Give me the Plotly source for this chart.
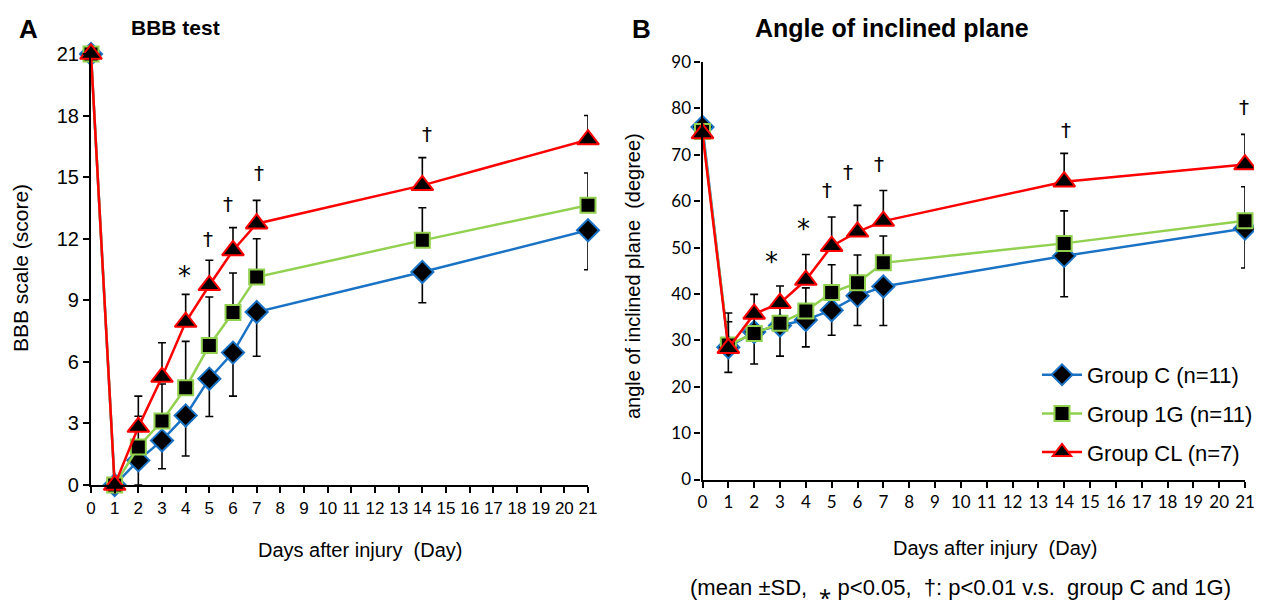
import plotly.graph_objects as go

# ---------------- data ----------------
days = [0, 1, 2, 3, 4, 5, 6, 7, 14, 21]

# Panel A: BBB scale (score)
bbb_c = [21, 0, 1.20, 2.17, 3.39, 5.18, 6.45, 8.43, 10.38, 12.41]
bbb_c_sd = [0, 0, 1.20, 1.38, 1.98, 1.84, 2.12, 2.16, 1.50, 1.92]
bbb_1g = [21, 0, 1.85, 3.12, 4.74, 6.80, 8.40, 10.13, 11.92, 13.63]
bbb_1g_sd = [0, 0, 1.5, 1.8, 2.26, 2.36, 1.93, 1.87, 1.59, 1.57]
bbb_cl = [21, 0, 2.82, 5.26, 7.94, 9.73, 11.43, 12.73, 14.60, 16.83]
bbb_cl_sd = [0, 0, 1.51, 1.67, 1.35, 1.22, 1.11, 1.14, 1.35, 1.17]

# Panel B: angle of inclined plane (degree)
ang_c = [76, 28.5, 31.8, 33.2, 34.4, 36.5, 39.6, 41.6, 48.2, 54.1]
ang_c_sd = [0, 5.4, 6.9, 6.6, 5.8, 5.4, 6.4, 8.4, 8.8, 8.5]
ang_1g = [75, 29.0, 31.5, 33.7, 36.3, 40.3, 42.4, 46.7, 50.9, 55.8]
ang_1g_sd = [0, 5.0, 4.0, 4.0, 5.0, 6.0, 6.0, 5.8, 7.0, 7.3]
ang_cl = [74.6, 28.3, 35.7, 38.0, 43.0, 50.3, 53.4, 55.7, 64.2, 67.9]
ang_cl_sd = [0, 7.6, 4.2, 3.7, 5.5, 6.3, 5.7, 6.6, 6.1, 6.5]

group_names = ["Group C (n=11)", "Group 1G (n=11)", "Group CL (n=7)"]

# significance marks
sig_a_x = [3.97, 4.95, 5.8, 7.1, 14.2, 21.3]
sig_a_y = [10.2, 12.0, 13.7, 15.2, 17.1, 18.75]
sig_a_sym = ["*", "†", "†", "†", "†", "†"]
sig_b_x = [2.68, 3.9, 4.81, 5.64, 6.85, 14.07, 20.96]
sig_b_y = [46.9, 54.1, 62.4, 66.3, 68.1, 75.3, 80.3]
sig_b_sym = ["*", "*", "†", "†", "†", "†", "†"]

x_ticks = list(range(0, 22))
ya_ticks = list(range(0, 22, 3))
yb_ticks = list(range(0, 91, 10))

# ---------------- styles ----------------
OFF = 8  # page body margin of the browser
W, H = 1262 - OFF, 600 - OFF
BLUE = "#1a72c4"
GREEN = "#92d050"
RED = "#ff0000"
FONT = "Liberation Sans, Arial, sans-serif"
FONT_B = "Lato, Liberation Sans, sans-serif"
FONT_SYM = "DejaVu Sans, Liberation Sans, sans-serif"

styles = [
    dict(color=BLUE, symbol="diamond", size=17, dir="minus"),
    dict(color=GREEN, symbol="square", size=15, dir="plus"),
    dict(color=RED, symbol="triangle-up", size=19, dir="plus"),
]

fig = go.Figure()


def add_series(xa, ya, vals, sds, st, name, show):
    if st["dir"] == "plus":
        err = dict(type="data", symmetric=False, array=sds, arrayminus=[0] * len(sds))
    else:
        err = dict(type="data", symmetric=False, array=[0] * len(sds), arrayminus=sds)
    err.update(color="black", thickness=1.6, width=4)
    fig.add_trace(go.Scatter(
        x=days, y=vals, xaxis=xa, yaxis=ya, mode="lines+markers", name=name,
        legendgroup=name, showlegend=show,
        line=dict(color=st["color"], width=2.5),
        marker=dict(symbol=st["symbol"], size=st["size"], color="black",
                    line=dict(color=st["color"], width=2)),
        error_y=err, cliponaxis=False,
    ))


a_series = [(bbb_c, bbb_c_sd), (bbb_1g, bbb_1g_sd), (bbb_cl, bbb_cl_sd)]
b_series = [(ang_c, ang_c_sd), (ang_1g, ang_1g_sd), (ang_cl, ang_cl_sd)]
for (v, s), st, nm in zip(a_series, styles, group_names):
    add_series("x", "y", v, s, st, nm, False)
for (v, s), st, nm in zip(b_series, styles, group_names):
    add_series("x2", "y2", v, s, st, nm, True)


def px_x(p):
    return (p - OFF) / W


def px_y(p):
    return 1 - (p - OFF) / H


axis_common = dict(showline=True, linecolor="black", linewidth=2.2, ticks="outside",
                   ticklen=6, tickwidth=1.8, tickcolor="black", showgrid=False,
                   zeroline=False, fixedrange=True)

fig.update_layout(
    width=W, height=H, margin=dict(l=0, r=0, t=0, b=0, autoexpand=False),
    paper_bgcolor="white", plot_bgcolor="white",
    font=dict(family=FONT, color="black", size=16),
    xaxis=dict(domain=[px_x(91), px_x(588)], range=[0, 21], tickvals=x_ticks,
               tickfont=dict(size=17, family=FONT), anchor="y", **axis_common),
    yaxis=dict(domain=[px_y(485), px_y(54)], range=[0, 21], tickvals=ya_ticks,
               tickfont=dict(size=20, family=FONT), anchor="x", **axis_common),
    xaxis2=dict(domain=[px_x(702.5), px_x(1245)], range=[0, 21], tickvals=x_ticks,
                tickfont=dict(size=17, family=FONT_B), anchor="y2", **axis_common),
    yaxis2=dict(domain=[px_y(479.5), px_y(62)], range=[0, 90], tickvals=yb_ticks,
                tickfont=dict(size=17, family=FONT_B), anchor="x2", **axis_common),
    legend=dict(x=px_x(1037), y=px_y(354), xanchor="left", yanchor="top",
                font=dict(size=22, family=FONT), tracegroupgap=7,
                bgcolor="rgba(0,0,0,0)", itemwidth=40),
)

ann = []
for x, y, s in zip(sig_a_x, sig_a_y, sig_a_sym):
    ann.append(dict(x=x, y=y, xref="x", yref="y", text=s, showarrow=False,
                    font=dict(size=26 if s == "*" else 20, family=FONT_SYM, color="black")))
for x, y, s in zip(sig_b_x, sig_b_y, sig_b_sym):
    ann.append(dict(x=x, y=y, xref="x2", yref="y2", text=s, showarrow=False,
                    font=dict(size=26 if s == "*" else 20, family=FONT_SYM, color="black")))

texts = [
    ("<b>A</b>", 28, 29, 26, 0),
    ("<b>BBB test</b>", 175, 27, 21, 0),
    ("<b>B</b>", 641, 29, 26, 0),
    ("<b>Angle of inclined plane</b>", 892, 28, 25, 0),
    ("BBB scale (score)", 20, 268, 21, -90),
    ("angle of inclined plane  (degree)", 633, 276, 20, -90),
    ("Days after injury  (Day)", 360, 550, 20, 0),
    ("Days after injury  (Day)", 995, 548, 20, 0),
    ("(mean \u00b1SD,  \u204e p<0.05,  \u2020: p<0.01 v.s.  group C and 1G)", 960, 587, 22, 0),
]
for t, x, y, sz, ang in texts:
    ann.append(dict(x=px_x(x), y=px_y(y), xref="paper", yref="paper", text=t,
                    showarrow=False, textangle=ang, xanchor="center", yanchor="middle",
                    font=dict(size=sz, family=FONT)))

fig.update_layout(annotations=ann)
fig.write_html("out.html")
